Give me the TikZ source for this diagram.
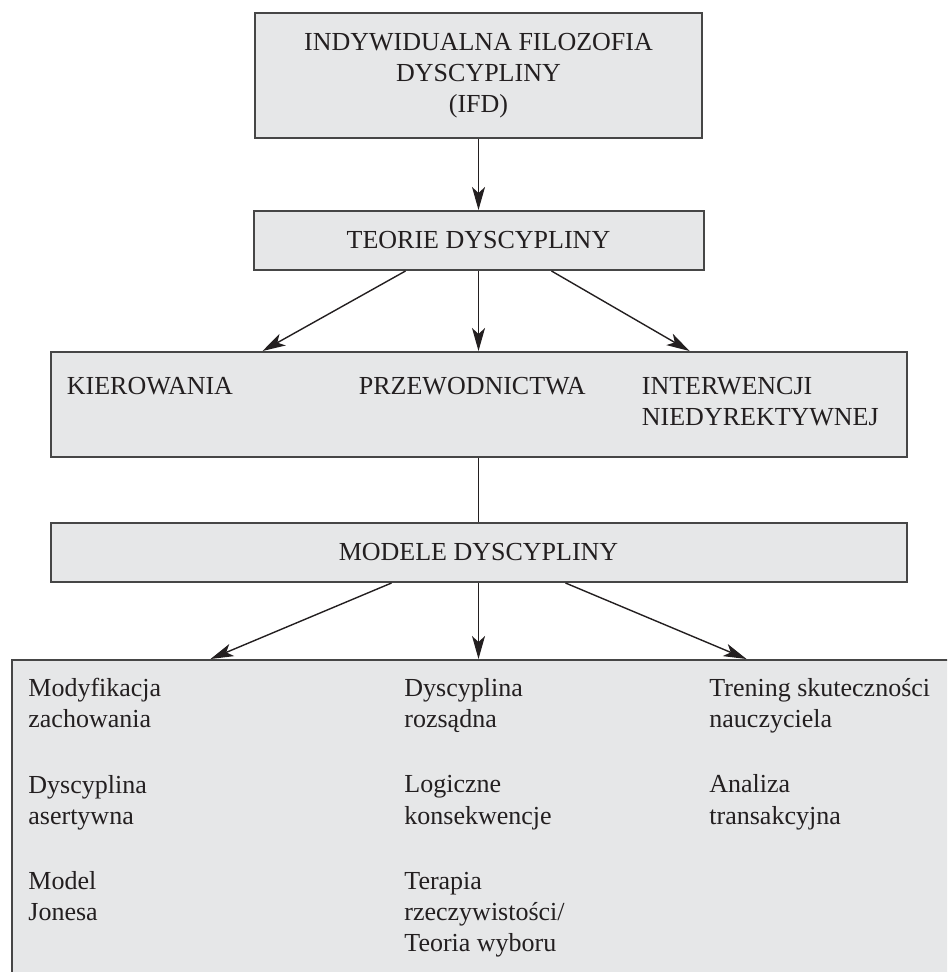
\documentclass[tikz,border=0pt]{standalone}
\usepackage{fontspec}
\setmainfont{Liberation Serif}
\usepackage{tikz}
\usetikzlibrary{arrows.meta,positioning}
\definecolor{pudelko}{RGB}{230,231,232}
\definecolor{ramka}{RGB}{70,70,70}
\definecolor{tekst}{RGB}{35,31,32}

\begin{document}
\begin{tikzpicture}[
    % 座標單位 (y 向下)
    x=1pt, y=-1pt,
    % 為線條設定樣式
    strzalka/.style={draw=tekst, line width=0.7pt, -{Stealth[length=11.5pt, width=6.5pt, inset=3pt]}},
    linia/.style={draw=tekst, line width=0.7pt},
    % --- 定義節點樣式 ---
    % 長方形節點樣式
    pole/.style={
        rectangle,
        draw=ramka,
        line width=1pt,
        fill=pudelko,
        text=tekst,
        align=center,
        inner sep=0pt,
        font=\fontsize{13}{15.6}\selectfont
    },
    % 框內文字樣式
    napis/.style={
        anchor=north west,
        inner sep=0pt,
        align=left,
        text=tekst,
        font=\fontsize{13}{15.6}\selectfont
    }
]

% 畫布大小
\useasboundingbox (0,0) rectangle (473.5,486);
\clip (0,0) rectangle (473.5,486);

% --- 繪製方框 ---
% 根節點 IFD
\node[pole, minimum width=223.5pt, minimum height=62.5pt] (ifd) at (239.25,37.75)
    {INDYWIDUALNA FILOZOFIA\\DYSCYPLINY\\(IFD)};
\node[pole, minimum width=225pt, minimum height=29.5pt, below=35.5pt of ifd] (teorie) {TEORIE DYSCYPLINY};
\node[pole, minimum width=428pt, minimum height=52.5pt, below=40pt of teorie] (nurty) {};
\node[pole, minimum width=428pt, minimum height=29.5pt, below=32pt of nurty] (modele) {MODELE DYSCYPLINY};
\node[pole, anchor=north west, minimum width=490pt, minimum height=180pt] (metody) at (5.5,329.5) {};

% 三種理論
\node[napis] (kier) at ([shift={(8.5,13)}]nurty.north west) {KIEROWANIA};
\node[napis] (przew) at ([shift={(154.5,13)}]nurty.north west) {PRZEWODNICTWA};
\node[napis] (interw) at ([shift={(296,13)}]nurty.north west) {INTERWENCJI\\NIEDYREKTYWNEJ};

% 各模型
\node[napis] (kol1) at ([shift={(8.5,9.5)}]metody.north west)
    {Modyfikacja\\zachowania\\[17pt]Dyscyplina\\asertywna\\[17pt]Model\\Jonesa};
\node[napis] (kol2) at ([shift={(196.5,9.5)}]metody.north west)
    {Dyscyplina\\rozsądna\\[17pt]Logiczne\\konsekwencje\\[17pt]Terapia\\rzeczywistości/\\Teoria wyboru};
\node[napis] (kol3) at ([shift={(349,9.5)}]metody.north west)
    {Trening skuteczności\\nauczyciela\\[17pt]Analiza\\transakcyjna};

% --- 繪製連線 ---
\draw[strzalka] (ifd.south) -- (teorie.north);
\draw[strzalka] ([shift={(-36.5,0)}]teorie.south) -- ([shift={(-108,0)}]nurty.north);
\draw[strzalka] (teorie.south) -- (nurty.north);
\draw[strzalka] ([shift={(36.5,0)}]teorie.south) -- ([shift={(105.5,0)}]nurty.north);
\draw[linia] (nurty.south) -- (modele.north);
\draw[strzalka] ([shift={(-43.5,0)}]modele.south) -- ([shift={(-134,0)}]modele.south |- metody.north);
\draw[strzalka] (modele.south) -- (modele.south |- metody.north);
\draw[strzalka] ([shift={(43.5,0)}]modele.south) -- ([shift={(134,0)}]modele.south |- metody.north);

\end{tikzpicture}
\end{document}
